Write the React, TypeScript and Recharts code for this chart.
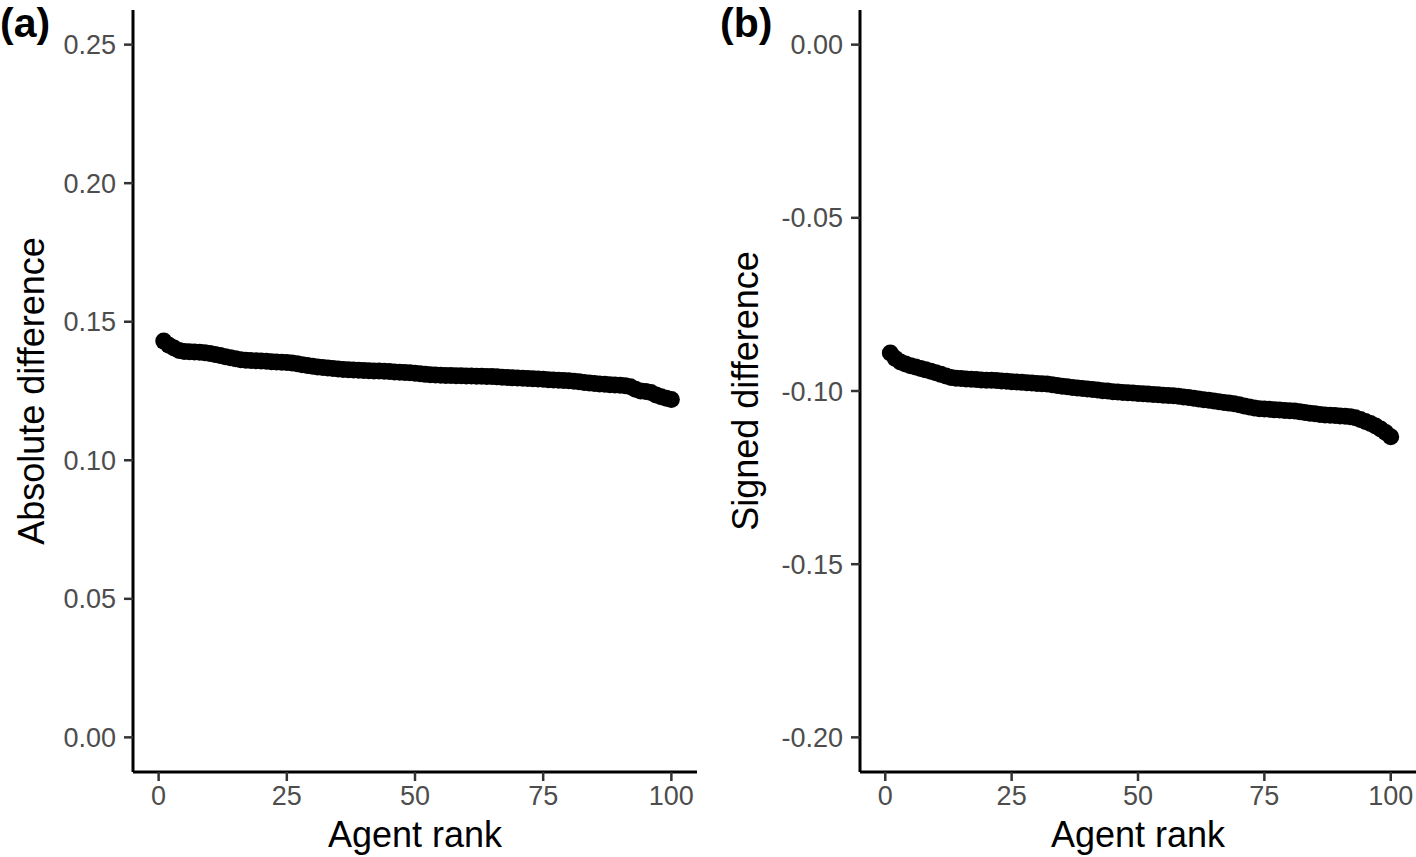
import { ScatterChart, Scatter, XAxis, YAxis } from "recharts";

const FONT = "'Liberation Sans', Arial, Helvetica, sans-serif";

// agent ranks 1..100
const ranks = Array.from({ length: 100 }, (_, i) => i + 1);

// (a) absolute difference
const absDiff = [
  0.143, 0.1415, 0.1405, 0.1396, 0.1393, 0.1392, 0.1391, 0.139, 0.1388, 0.1385,
  0.1382, 0.1378, 0.1374, 0.137, 0.1366, 0.1363, 0.1361, 0.136, 0.1359, 0.1358,
  0.1357, 0.1356, 0.1355, 0.1354, 0.1353, 0.1351, 0.1348, 0.1345, 0.1342, 0.1339,
  0.1337, 0.1335, 0.1333, 0.1331, 0.1329, 0.1328, 0.1327, 0.1326, 0.1325, 0.1324,
  0.1323, 0.1322, 0.1322, 0.1321, 0.132, 0.1319, 0.1318, 0.1317, 0.1316, 0.1314,
  0.1312, 0.131, 0.1309, 0.1308, 0.1307, 0.1306, 0.1306, 0.1305, 0.1305, 0.1304,
  0.1304, 0.1303, 0.1303, 0.1302, 0.1302, 0.1301, 0.13, 0.1299, 0.1298, 0.1297,
  0.1296, 0.1295, 0.1294, 0.1293, 0.1292, 0.1291, 0.129, 0.1289, 0.1288, 0.1287,
  0.1285, 0.1283, 0.1281, 0.1279, 0.1277, 0.1275, 0.1274, 0.1273, 0.1272, 0.1271,
  0.1269, 0.1265, 0.1256, 0.125, 0.1248, 0.1245, 0.1236, 0.1229, 0.1224, 0.1219,
];

// (b) signed difference
const signedDiff = [
  -0.089, -0.0906, -0.0916, -0.0922, -0.0927, -0.0931, -0.0935, -0.0939, -0.0943, -0.0947,
  -0.0952, -0.0957, -0.0961, -0.0963, -0.0964, -0.0965, -0.0966, -0.0967, -0.0968, -0.0969,
  -0.0969, -0.097, -0.0971, -0.0972, -0.0973, -0.0974, -0.0975, -0.0976, -0.0977, -0.0978,
  -0.0979, -0.098, -0.0982, -0.0984, -0.0986, -0.0988, -0.099, -0.0991, -0.0993, -0.0994,
  -0.0996, -0.0997, -0.0999, -0.1, -0.1002, -0.1003, -0.1004, -0.1005, -0.1006, -0.1007,
  -0.1008, -0.1009, -0.101, -0.1011, -0.1012, -0.1013, -0.1014, -0.1015, -0.1017, -0.1019,
  -0.1021, -0.1023, -0.1025, -0.1027, -0.1029, -0.1031, -0.1033, -0.1035, -0.1037, -0.104,
  -0.1043, -0.1046, -0.1049, -0.1051, -0.1052, -0.1053, -0.1054, -0.1055, -0.1056, -0.1057,
  -0.1058, -0.106, -0.1062, -0.1064, -0.1066, -0.1068, -0.1069, -0.107, -0.1071, -0.1072,
  -0.1073, -0.1074, -0.1077, -0.1082, -0.1088, -0.1094, -0.1101, -0.111, -0.112, -0.1132,
];

const xTicks = [0, 25, 50, 75, 100];
const absTicks = [0, 0.05, 0.1, 0.15, 0.2, 0.25];
const signedTicks = [-0.2, -0.15, -0.1, -0.05, 0];

const absData = ranks.map((r, i) => ({ rank: r, value: absDiff[i] }));
const signedData = ranks.map((r, i) => ({ rank: r, value: signedDiff[i] }));

const Dot = (p: any) => <circle cx={p.cx} cy={p.cy} r={8.5} fill="#000" />;

const tickStyle = { fill: "#4d4d4d", fontSize: 27, fontFamily: FONT };

type PanelProps = {
  data: { rank: number; value: number }[];
  width: number;
  right: number;
  axisWidth: number;
  yDomain: [number, number];
  yTicks: number[];
  yTitle: string;
  yTitleX: number;
};

const Panel = ({ data, width, right, axisWidth, yDomain, yTicks, yTitle, yTitleX }: PanelProps) => {
  const midX = (axisWidth + width - right) / 2;
  return (
    <ScatterChart width={width} height={857} margin={{ top: 10, right, bottom: 0, left: 0 }}>
      <XAxis
        type="number"
        dataKey="rank"
        domain={[-5, 105]}
        ticks={xTicks}
        interval={0}
        allowDataOverflow
        height={85}
        tickSize={9}
        tickMargin={5}
        axisLine={{ stroke: "#000", strokeWidth: 3 }}
        tickLine={{ stroke: "#333", strokeWidth: 2.5 }}
        tick={tickStyle}
        label={() => (
          <text x={midX} y={847} textAnchor="middle" fontSize={36} fontFamily={FONT} fill="#000">
            Agent rank
          </text>
        )}
      />
      <YAxis
        type="number"
        dataKey="value"
        domain={yDomain}
        ticks={yTicks}
        interval={0}
        allowDataOverflow
        width={axisWidth}
        tickSize={9}
        tickMargin={8}
        tickFormatter={(v: number) => v.toFixed(2)}
        axisLine={{ stroke: "#000", strokeWidth: 3 }}
        tickLine={{ stroke: "#333", strokeWidth: 2.5 }}
        tick={tickStyle}
        label={() => (
          <text
            x={yTitleX}
            y={391}
            transform={`rotate(-90 ${yTitleX} 391)`}
            textAnchor="middle"
            fontSize={36}
            fontFamily={FONT}
            fill="#000"
          >
            {yTitle}
          </text>
        )}
      />
      <Scatter data={data} fill="#000" shape={Dot} isAnimationActive={false} />
    </ScatterChart>
  );
};

const tag = {
  position: "absolute" as const,
  top: 1,
  fontSize: 41,
  lineHeight: "44px",
  fontWeight: 700,
  fontFamily: FONT,
  color: "#000",
};

export default function App() {
  return (
    <div style={{ position: "absolute", left: 0, top: 0, width: 1416, height: 857, background: "#fff", overflow: "hidden" }}>
      <div style={{ position: "absolute", left: 0, top: 0 }}>
        <Panel
          data={absData}
          width={720}
          right={23}
          axisWidth={133}
          yDomain={[-0.0125, 0.2625]}
          yTicks={absTicks}
          yTitle="Absolute difference"
          yTitleX={44}
        />
      </div>
      <div style={{ position: "absolute", left: 700, top: 0 }}>
        <Panel
          data={signedData}
          width={716}
          right={0}
          axisWidth={160}
          yDomain={[-0.21, 0.01]}
          yTicks={signedTicks}
          yTitle="Signed difference"
          yTitleX={58}
        />
      </div>
      <div style={{ ...tag, left: 0 }}>(a)</div>
      <div style={{ ...tag, left: 720 }}>(b)</div>
    </div>
  );
}
